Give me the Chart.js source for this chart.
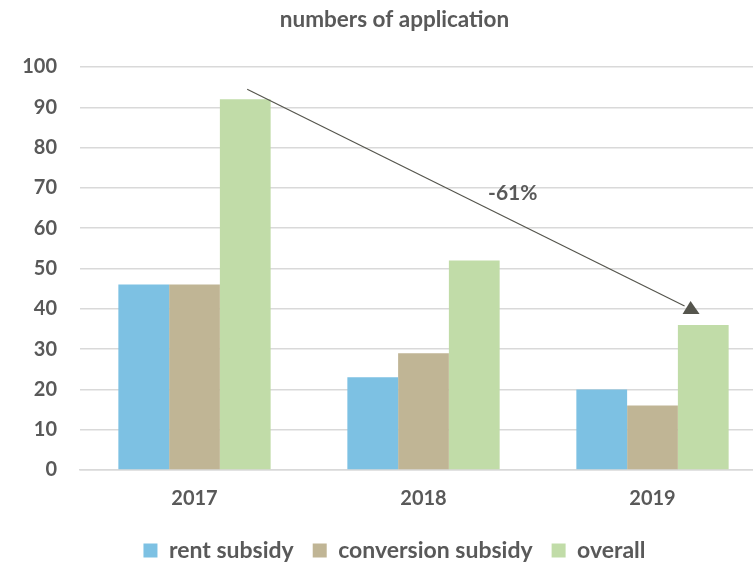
<!DOCTYPE html>
<html>
<head>
<meta charset="utf-8">
<script src="https://cdn.jsdelivr.net/npm/chart.js@4/dist/chart.umd.min.js"></script>
<style>
  html, body { margin:0; padding:0; background:#fff; overflow:hidden; }
  #wrap { width:767px; height:566px; }
</style>
</head>
<body>
<div id="wrap"><canvas id="c" width="767" height="566"></canvas></div>
<script>
const years = ['2017', '2018', '2019'];
const rentSubsidy = [46, 23, 20];
const conversionSubsidy = [46, 29, 16];
const overall = [92, 52, 36];
const yTicks = [0, 10, 20, 30, 40, 50, 60, 70, 80, 90, 100];

// trend arrow: [category index, value]
const arrowFrom = [0.23, 94.5];
const arrowTo = [2.14, 40.7];
const changeLabel = '-61%';
const labelAt = [1.39, 68.7];

const txt = '#595959';
const font = 'Lato, "Open Sans", sans-serif';

// category index (may be fractional) -> pixel
function xAt(scale, i){
  const a = scale.getPixelForTick(0), b = scale.getPixelForTick(1);
  return a + (b - a) * i;
}

const arrowPlugin = {
  id: 'trendArrow',
  afterDatasetsDraw(chart){
    const {ctx, scales:{x, y}} = chart;
    const sx = xAt(x, arrowFrom[0]), sy = y.getPixelForValue(arrowFrom[1]);
    const ex = xAt(x, arrowTo[0]), ey = y.getPixelForValue(arrowTo[1]);
    ctx.save();
    ctx.strokeStyle = '#55554d';
    ctx.fillStyle = '#55554d';
    ctx.lineWidth = 1.2;
    ctx.beginPath(); ctx.moveTo(sx, sy); ctx.lineTo(ex, ey); ctx.stroke();
    // arrow head
    ctx.beginPath();
    ctx.moveTo(ex + 6, ey - 5);
    ctx.lineTo(ex + 15, ey + 8);
    ctx.lineTo(ex - 2, ey + 8);
    ctx.closePath(); ctx.fill();
    // label
    ctx.fillStyle = txt;
    ctx.font = 'bold 21px ' + font;
    ctx.textAlign = 'center'; ctx.textBaseline = 'middle';
    ctx.fillText(changeLabel, xAt(x, labelAt[0]), y.getPixelForValue(labelAt[1]));
    ctx.restore();
  }
};

new Chart(document.getElementById('c'), {
  type: 'bar',
  data: {
    labels: years,
    datasets: [
      {label:'rent subsidy', data:rentSubsidy, backgroundColor:'#7dc1e3'},
      {label:'conversion subsidy', data:conversionSubsidy, backgroundColor:'#c0b595'},
      {label:'overall', data:overall, backgroundColor:'#c1dca8'}
    ]
  },
  options: {
    responsive:false,
    animation:false,
    datasets:{bar:{barPercentage:1, categoryPercentage:0.665, borderWidth:0}},
    layout:{padding:{top:6, left:22, right:0, bottom:-6}},
    plugins:{
      title:{display:true, text:'numbers of application', color:txt,
        font:{family:font, size:22.5, weight:'bold'}, padding:{top:0, bottom:34}},
      legend:{position:'bottom',
        labels:{color:txt, boxWidth:14, boxHeight:14, padding:19,
          font:{family:font, size:23, weight:'bold'}}},
      tooltip:{enabled:false}
    },
    scales:{
      x:{
        afterFit(s){ s.height = 50; },
        grid:{display:false},
        border:{color:'#d9d9d9', width:1.5},
        ticks:{color:txt, padding:9, font:{family:font, size:20, weight:'bold'}}
      },
      y:{
        min:0, max:100,
        afterBuildTicks(s){ s.ticks = yTicks.map(v => ({value:v})); },
        afterFit(s){ s.width = 58; },
        grid:{color:'#d9d9d9', lineWidth:1.5, drawTicks:false},
        border:{display:false},
        ticks:{color:txt, padding:23, font:{family:font, size:20, weight:'bold'}}
      }
    }
  },
  plugins:[arrowPlugin]
});
</script>
</body>
</html>
